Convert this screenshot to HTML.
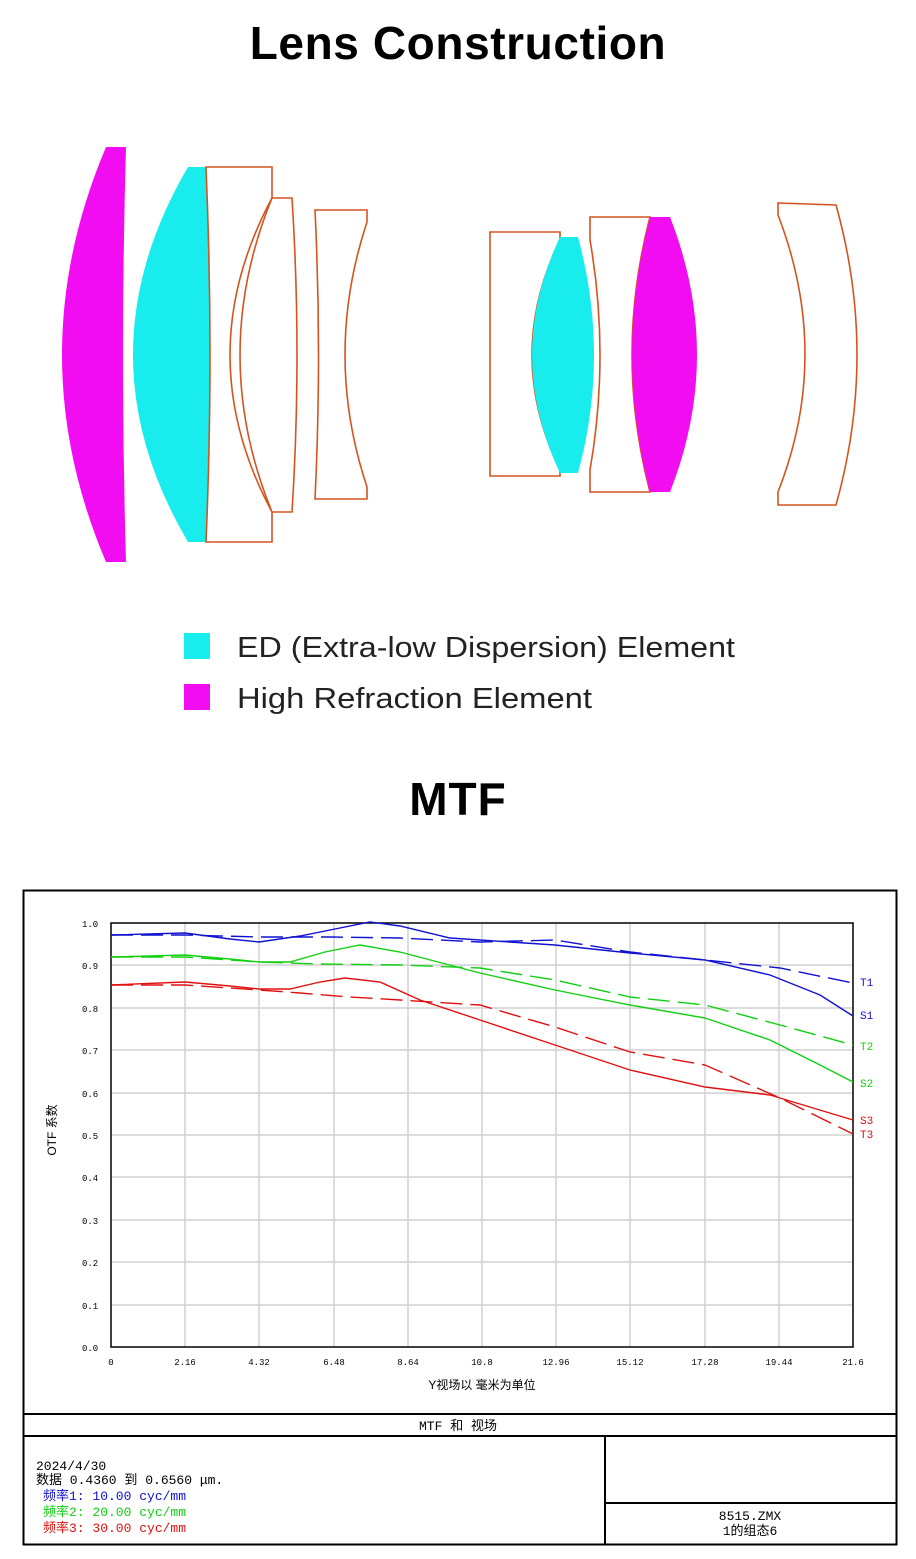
<!DOCTYPE html>
<html><head><meta charset="utf-8"><style>
body{margin:0;background:#fff;width:916px;height:1559px;overflow:hidden;position:relative;font-family:"Liberation Sans","Noto Sans CJK SC",sans-serif}
.t{position:absolute;left:0;width:916px;text-align:center;font-weight:bold;color:#000}
</style></head><body>
<div class="t" style="top:16px;font-size:46px;letter-spacing:0.6px">Lens Construction</div>
<div class="t" style="top:772px;font-size:46px;letter-spacing:1px">MTF</div>
<svg width="916" height="1559" style="position:absolute;left:0;top:0" xmlns="http://www.w3.org/2000/svg">
<g stroke="#d4541e" stroke-width="1.6" fill="#fff">
<path d="M106,147 L126,147 Q120,355 126,562 L106,562 Q18,355 106,147Z" fill="#f20cf2" stroke="none"/>
<path d="M188,167 L206,167 Q214,355 206,542 L188,542 Q78,355 188,167Z" fill="#19ecec" stroke="none"/>
<path d="M206,167 L272,167 L272,198 Q188,355 272,512 L272,542 L206,542 Q214,355 206,167Z"/>
<path d="M272,198 L292,198 Q302,355 292,512 L272,512 Q208,355 272,198Z"/>
<path d="M315,210 L367,210 L367,222 Q323,355 367,487 L367,499 L315,499 Q322,355 315,210Z"/>
<path d="M490,232 L560,232 L560,240 Q504,355 560,470 L560,476 L490,476Z"/>
<path d="M560,237 L578,237 Q610,355 578,473 L560,473 Q504,355 560,237Z" fill="#19ecec" stroke="none"/>
<path d="M590,217 L650,217 Q614,355 650,492 L590,492 L590,470 Q610,355 590,240Z"/>
<path d="M650,217 L670,217 Q724,355 670,492 L650,492 Q614,355 650,217Z" fill="#f20cf2" stroke="none"/>
<path d="M778,203 L836,205 Q878,355 836,505 L778,505 L778,492 Q832,355 778,215Z"/>
</g>
<rect x="184" y="633" width="26" height="26" fill="#19ecec"/>
<rect x="184" y="684" width="26" height="26" fill="#f20cf2"/>
<text x="237" y="657" font-size="29" fill="#222" font-family="Liberation Sans,sans-serif" textLength="498" lengthAdjust="spacingAndGlyphs">ED (Extra-low Dispersion) Element</text>
<text x="237" y="708" font-size="29" fill="#222" font-family="Liberation Sans,sans-serif" textLength="355" lengthAdjust="spacingAndGlyphs">High Refraction Element</text>

<rect x="23.5" y="890.5" width="873" height="654" fill="none" stroke="#000" stroke-width="2"/>
<line x1="23" y1="1414" x2="897" y2="1414" stroke="#000" stroke-width="2"/>
<line x1="23" y1="1436" x2="897" y2="1436" stroke="#000" stroke-width="2"/>
<line x1="605" y1="1436" x2="605" y2="1545" stroke="#000" stroke-width="2"/>
<line x1="605" y1="1503" x2="897" y2="1503" stroke="#000" stroke-width="2"/>
<g stroke="#d0d0d0" stroke-width="1.5">
<line x1="185" y1="923" x2="185" y2="1347"/><line x1="259" y1="923" x2="259" y2="1347"/><line x1="334" y1="923" x2="334" y2="1347"/><line x1="408" y1="923" x2="408" y2="1347"/><line x1="482" y1="923" x2="482" y2="1347"/><line x1="556" y1="923" x2="556" y2="1347"/><line x1="630" y1="923" x2="630" y2="1347"/><line x1="705" y1="923" x2="705" y2="1347"/><line x1="779" y1="923" x2="779" y2="1347"/>
<line x1="111" y1="965" x2="853" y2="965"/><line x1="111" y1="1008" x2="853" y2="1008"/><line x1="111" y1="1050" x2="853" y2="1050"/><line x1="111" y1="1093" x2="853" y2="1093"/><line x1="111" y1="1135" x2="853" y2="1135"/><line x1="111" y1="1177" x2="853" y2="1177"/><line x1="111" y1="1220" x2="853" y2="1220"/><line x1="111" y1="1262" x2="853" y2="1262"/><line x1="111" y1="1305" x2="853" y2="1305"/>
</g>
<rect x="111" y="923" width="742" height="424" fill="none" stroke="#000" stroke-width="1.5"/>
<g font-size="9" fill="#000" font-family="Liberation Mono,monospace">
<text x="82" y="927">1.0</text><text x="82" y="969">0.9</text><text x="82" y="1012">0.8</text><text x="82" y="1054">0.7</text><text x="82" y="1097">0.6</text><text x="82" y="1139">0.5</text><text x="82" y="1181">0.4</text><text x="82" y="1224">0.3</text><text x="82" y="1266">0.2</text><text x="82" y="1309">0.1</text><text x="82" y="1351">0.0</text>
<g text-anchor="middle"><text x="111" y="1365">0</text><text x="185" y="1365">2.16</text><text x="259" y="1365">4.32</text><text x="334" y="1365">6.48</text><text x="408" y="1365">8.64</text><text x="482" y="1365">10.8</text><text x="556" y="1365">12.96</text><text x="630" y="1365">15.12</text><text x="705" y="1365">17.28</text><text x="779" y="1365">19.44</text><text x="853" y="1365">21.6</text></g>
</g>
<text x="482" y="1389" font-size="12" text-anchor="middle" font-family="Liberation Sans,Noto Sans CJK SC,sans-serif">Y视场以 毫米为单位</text>
<text transform="translate(56,1130) rotate(-90)" font-size="12" text-anchor="middle" font-family="Liberation Sans,Noto Sans CJK SC,sans-serif">OTF 系数</text>
<g fill="none" stroke-width="1.4">
<polyline stroke="#1010d0" points="111,935 185,933 230,939 259,942 300,936 330,930 370,922 400,926 450,938 555,945 630,953 705,960 770,975 820,995 853,1016"/>
<polyline stroke="#1010d0" stroke-dasharray="22,8" points="111,935 185,935 259,937 330,937 400,938 480,942 555,940 630,952 705,960 780,968 853,983"/>
<polyline stroke="#10d010" points="111,957 185,955 230,959 259,962 290,962 325,952 360,945 400,952 480,973 555,990 630,1005 705,1018 770,1040 820,1065 853,1082"/>
<polyline stroke="#10d010" stroke-dasharray="22,8" points="111,957 185,957 259,962 320,964 400,965 480,968 555,980 630,997 705,1005 780,1025 853,1045"/>
<polyline stroke="#e01010" points="111,985 185,982 230,986 259,989 290,989 320,982 345,978 380,982 420,1000 480,1020 555,1045 630,1070 705,1087 770,1095 853,1120"/>
<polyline stroke="#e01010" stroke-dasharray="22,8" points="111,985 185,985 259,990 300,993 350,997 400,1000 480,1005 555,1027 630,1052 705,1065 780,1098 853,1134"/>
</g>
<g font-size="11" font-family="Liberation Mono,monospace">
<text x="860" y="986" fill="#1010d0">T1</text><text x="860" y="1019" fill="#1010d0">S1</text>
<text x="860" y="1050" fill="#10d010">T2</text><text x="860" y="1087" fill="#10d010">S2</text>
<text x="860" y="1124" fill="#e01010">S3</text><text x="860" y="1138" fill="#e01010">T3</text>
</g>
<g font-family="Liberation Mono,Noto Sans CJK SC,monospace" font-size="13">
<text x="458" y="1430" text-anchor="middle">MTF 和 视场</text>
<text x="36" y="1470">2024/4/30</text>
<text x="36" y="1484">数据 0.4360 到 0.6560 μm.</text>
<text x="43" y="1500" fill="#1010d0">频率1:  10.00 cyc/mm</text>
<text x="43" y="1516" fill="#10d010">频率2:  20.00 cyc/mm</text>
<text x="43" y="1532" fill="#e01010">频率3:  30.00 cyc/mm</text>
<text x="750" y="1520" text-anchor="middle">8515.ZMX</text>
<text x="750" y="1535" text-anchor="middle">1的组态6</text>
</g>
</svg>
</body></html>
